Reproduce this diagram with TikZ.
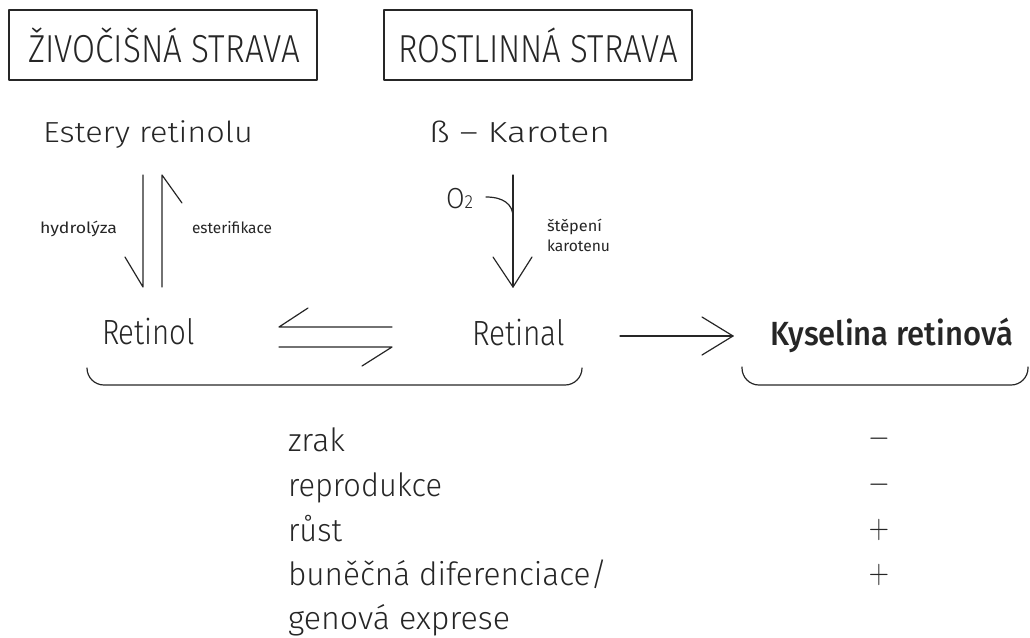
\documentclass[tikz,border=0pt]{standalone}
\usepackage{fontspec}
\usepackage{graphicx}
\setmainfont{Fira Sans Light}
\newfontfamily\regf{Fira Sans}
\newfontfamily\medf{Fira Sans Medium}
\newcommand\fitw[2]{\resizebox{#1}{\height}{#2}}
\newcommand\plussign{\scalebox{1.35}[1.65]{$+$}}
\newcommand\minussign{\scalebox{1.35}[1.5]{$-$}}
\definecolor{ln}{gray}{0.15}
\begin{document}
\begin{tikzpicture}[x=1pt,y=-1pt,line width=1.2pt,line cap=round,line join=round,draw=ln,
  txt/.style={inner sep=0pt,outer sep=0pt,anchor=base west,text=ln},
  sign/.style={inner sep=0pt,outer sep=0pt,anchor=center,text=ln,font=\fontsize{20}{20}\selectfont},
  boxf/.style={font=\fontsize{39}{44}\selectfont},
  bigf/.style={font=\fontsize{35}{42}\selectfont},
  midf/.style={font=\fontsize{29}{34}\selectfont},
  listf/.style={font=\fontsize{32}{36}\selectfont},
  smallf/.style={font=\regf\fontsize{15.5}{18}\selectfont},
  boldf/.style={font=\medf\fontsize{33.5}{40}\selectfont},
  framebox/.style={draw=ln,line width=1.4pt,inner sep=0pt,minimum width=308pt,minimum height=70pt},
  brace/.style={rounded corners=17pt}]
\useasboundingbox (0,0) rectangle (1030,637);

% boxes
\node[framebox] (b1) at (163,45) {};
\node[framebox] (b2) at (538,45) {};
\node[txt,boxf] (t1) at (28,62) {\fitw{272pt}{ŽIVOČIŠNÁ STRAVA}};
\node[txt,boxf] (t2) at (398,62) {\fitw{280pt}{ROSTLINNÁ STRAVA}};

% sources
\node[txt,midf] (est) at (43,142) {\fitw{210pt}{Estery retinolu}};
\node[txt,midf] (kar) at (429,142) {\fitw{181pt}{ß – Karoten}};

% hydrolysis / esterification
\coordinate (hA) at (143,175); \coordinate (hB) at (143,287);
\coordinate (eA) at (162,287); \coordinate (eB) at (162,175);
\draw (hA) -- (hB) -- ++(-18,-30);
\draw (eA) -- (eB) -- ++(20,28);
\node[txt,smallf] (hyd) at (40,233) {\fitw{77pt}{hydrolýza}};
\node[txt,smallf] (esf) at (192,233) {\fitw{80pt}{esterifikace}};

% carotene cleavage
\coordinate (kA) at (513,175); \coordinate (kB) at (513,287);
\draw (kA) -- (kB);
\draw (kB) ++(-20,-30) -- (kB) -- ++(19,-30);
\node[txt,font=\fontsize{29}{32}\selectfont] (o2) at (446,208) {\fitw{27pt}{O\fontsize{19}{20}\selectfont 2}};
\coordinate (oc) at (486,197); \coordinate (oe) at (513,217);
\draw (oc) .. controls (503,197) and (513,204) .. (oe);
\node[txt,smallf] (st1) at (547,231) {\fitw{55pt}{štěpení}};
\node[txt,smallf] (st2) at (547,251) {\fitw{63pt}{karotenu}};

% middle row
\node[txt,bigf] (rol) at (102,344) {\fitw{93pt}{Retinol}};
\node[txt,bigf] (ral) at (472,345) {\fitw{93pt}{Retinal}};
\coordinate (q1) at (279,327); \coordinate (q2) at (392,327);
\coordinate (q3) at (279,347); \coordinate (q4) at (392,347);
\draw (q2) -- (q1) -- ++(29,-19);
\draw (q3) -- (q4) -- ++(-30,19);
\coordinate (a1) at (620,336); \coordinate (a2) at (733,336);
\draw (a1) -- (a2);
\draw (a2) ++(-31,-19) -- (a2) -- ++(-31,19);
\node[txt,boldf] (kys) at (770,345) {\fitw{243pt}{Kyselina retinová}};

% braces
\coordinate (br1a) at (87,368); \coordinate (br1m) at (330,385); \coordinate (br1b) at (582,368);
\draw[brace] (br1a) |- (br1m) -| (br1b);
\coordinate (br2a) at (742,367); \coordinate (br2m) at (880,385); \coordinate (br2b) at (1028,367);
\draw[brace] (br2a) |- (br2m) -| (br2b);

% list
\node[txt,listf] (l1) at (288,451) {\fitw{57pt}{zrak}};
\node[txt,listf] (l2) at (288,496) {\fitw{154pt}{reprodukce}};
\node[txt,listf] (l3) at (288,541) {\fitw{54pt}{růst}};
\node[txt,listf] (l4) at (288,585) {\fitw{319pt}{buněčná diferenciace/}};
\node[txt,listf] (l5) at (288,629) {\fitw{222pt}{genová exprese}};

\node[sign] (s1) at (879,439) {\minussign};
\node[sign] (s2) at (879,485) {\minussign};
\node[sign] (s3) at (879,530) {\plussign};
\node[sign] (s4) at (879,575) {\plussign};
\end{tikzpicture}
\end{document}
